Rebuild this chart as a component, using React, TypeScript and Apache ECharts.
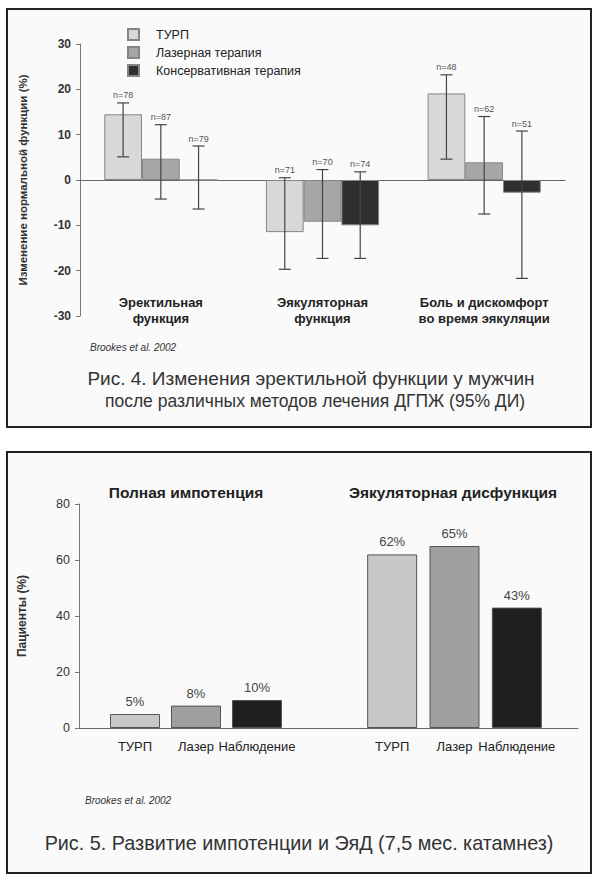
import React, { useEffect, useRef } from "react";
import * as echarts from "echarts";

// ---------- Chart 1 data ----------
const categories1 = ["Эректильная\nфункция", "Эякуляторная\nфункция", "Боль и дискомфорт\nво время эякуляции"];
const seriesNames1 = ["ТУРП", "Лазерная терапия", "Консервативная терапия"];
const turpMean = [14.5, -11.5, 19.1];
const laserMean = [4.7, -9.2, 3.9];
const consMean = [0, -10, -2.8];
const turpLow = [5.1, -19.7, 4.6];
const turpHigh = [17, 0.5, 23.2];
const laserLow = [-4.2, -17.3, -7.5];
const laserHigh = [12.2, 2.3, 14];
const consLow = [-6.4, -17.3, -21.7];
const consHigh = [7.5, 1.8, 10.8];
const turpN = ["n=78", "n=71", "n=48"];
const laserN = ["n=87", "n=70", "n=62"];
const consN = ["n=79", "n=74", "n=51"];
const yMin1 = -30;
const yMax1 = 30;
const yStep1 = 10;

// ---------- Chart 2 data ----------
const categories2 = ["ТУРП", "Лазер", "Наблюдение"];
const groupTitles2 = ["Полная импотенция", "Эякуляторная дисфункция"];
const impotenceValues = [5, 8, 10];
const ejacValues = [62, 65, 43];
const yMin2 = 0;
const yMax2 = 80;
const yStep2 = 20;

// ---------- texts ----------
const caption1 = ["Рис. 4. Изменения эректильной функции у мужчин", "после различных методов лечения ДГПЖ (95% ДИ)"];
const caption2 = "Рис. 5. Развитие импотенции и ЭяД (7,5 мес. катамнез)";
const source = "Brookes et al. 2002";
const yName1 = "Изменение нормальной функции (%)";
const yName2 = "Пациенты (%)";

const colors1 = ["#d8d8d8", "#a6a6a6", "#2f2f2f"];
const colors2 = ["#c8c8c8", "#9f9f9f", "#1f1f1f"];
const FONT = "Liberation Sans";

const means = [turpMean, laserMean, consMean];
const lows = [turpLow, laserLow, consLow];
const highs = [turpHigh, laserHigh, consHigh];
const ns = [turpN, laserN, consN];

function errorSeries(k: number) {
  return {
    type: "custom",
    name: "err" + k,
    xAxisIndex: 0,
    yAxisIndex: 0,
    z: 5,
    clip: false,
    data: categories1.map((_, i) => [i, lows[k][i], highs[k][i]]),
    renderItem: (params: any, api: any) => {
      const cat = api.value(0);
      const lo = api.value(1);
      const hi = api.value(2);
      const center = api.coord([cat, 0])[0];
      const catW = api.size([1, 0])[0];
      const barW = (catW * 0.7) / 3;
      const x = center + (k - 1) * barW;
      const yLo = api.coord([cat, lo])[1];
      const yHi = api.coord([cat, hi])[1];
      const cap = 6;
      const st = { stroke: "#444", lineWidth: 1.2 };
      return {
        type: "group",
        children: [
          { type: "line", shape: { x1: x, y1: yLo, x2: x, y2: yHi }, style: st },
          { type: "line", shape: { x1: x - cap, y1: yHi, x2: x + cap, y2: yHi }, style: st },
          { type: "line", shape: { x1: x - cap, y1: yLo, x2: x + cap, y2: yLo }, style: st },
          {
            type: "text",
            x: x,
            y: yHi - 3,
            style: {
              text: ns[k][params.dataIndex],
              fill: "#555",
              fontSize: 9,
              fontFamily: FONT,
              textAlign: "center",
              textVerticalAlign: "bottom",
            },
          },
        ],
      };
    },
  };
}

const option: any = {
  animation: false,
  backgroundColor: "#ffffff",
  textStyle: { fontFamily: FONT },
  legend: {
    data: seriesNames1,
    orient: "vertical",
    left: 122,
    top: 23,
    itemWidth: 11,
    itemHeight: 11,
    itemGap: 5,
    icon: "rect",
    textStyle: { fontSize: 12.5, color: "#222", fontFamily: FONT, padding: [0, 0, 0, 12], lineHeight: 12.5 },
  },
  grid: [
    { left: 80, top: 44, width: 485, height: 272 },
    { left: 79, top: 504, width: 499, height: 224 },
    { left: 104.5, top: 504, width: 183, height: 224 },
    { left: 361, top: 504, width: 187, height: 224 },
  ],
  xAxis: [
    {
      gridIndex: 0,
      type: "category",
      position: "top",
      data: categories1,
      axisLine: { show: true, onZero: true, lineStyle: { color: "#666", width: 1 } },
      axisTick: { show: false },
      axisLabel: { show: false },
    },
    {
      gridIndex: 0,
      type: "category",
      position: "bottom",
      data: categories1,
      axisLine: { show: false, onZero: false },
      axisTick: { show: false },
      axisLabel: {
        interval: 0,
        margin: -22,
        fontSize: 13,
        fontWeight: "bold",
        color: "#222",
        lineHeight: 16,
        fontFamily: FONT,
      },
    },
    {
      gridIndex: 1,
      type: "category",
      data: [""],
      axisLine: { show: true, lineStyle: { color: "#666", width: 1 } },
      axisTick: { show: false },
      axisLabel: { show: false },
    },
    {
      gridIndex: 2,
      type: "category",
      data: categories2,
      axisLine: { show: false },
      axisTick: { show: false },
      axisLabel: { interval: 0, margin: 12, fontSize: 13, color: "#222", fontFamily: FONT },
    },
    {
      gridIndex: 3,
      type: "category",
      data: categories2,
      axisLine: { show: false },
      axisTick: { show: false },
      axisLabel: { interval: 0, margin: 12, fontSize: 13, color: "#222", fontFamily: FONT },
    },
  ],
  yAxis: [
    {
      gridIndex: 0,
      type: "value",
      min: yMin1,
      max: yMax1,
      interval: yStep1,
      name: yName1,
      nameLocation: "middle",
      nameGap: 51,
      nameTextStyle: { fontSize: 11.5, fontWeight: "bold", color: "#333", fontFamily: FONT },
      axisLine: { show: true, lineStyle: { color: "#777" } },
      axisTick: { show: true, length: 4, lineStyle: { color: "#777" } },
      axisLabel: { fontSize: 12, fontWeight: "bold", color: "#333", margin: 9, fontFamily: FONT },
      splitLine: { show: false },
    },
    {
      gridIndex: 1,
      type: "value",
      min: yMin2,
      max: yMax2,
      interval: yStep2,
      name: yName2,
      nameLocation: "middle",
      nameGap: 51,
      nameTextStyle: { fontSize: 12, fontWeight: "bold", color: "#333", fontFamily: FONT },
      axisLine: { show: true, lineStyle: { color: "#777" } },
      axisTick: { show: true, length: 4, lineStyle: { color: "#777" } },
      axisLabel: { fontSize: 12.5, color: "#333", margin: 9, fontFamily: FONT },
      splitLine: { show: false },
    },
    { gridIndex: 2, type: "value", min: yMin2, max: yMax2, show: false, splitLine: { show: false } },
    { gridIndex: 3, type: "value", min: yMin2, max: yMax2, show: false, splitLine: { show: false } },
  ],
  series: [
    ...seriesNames1.map((name, k) => ({
      type: "bar",
      name,
      xAxisIndex: 0,
      yAxisIndex: 0,
      data: means[k],
      barGap: "0%",
      barCategoryGap: "30%",
      itemStyle: { color: colors1[k], borderColor: "#858585", borderWidth: 1 },
    })),
    errorSeries(0),
    errorSeries(1),
    errorSeries(2),
    {
      type: "bar",
      name: groupTitles2[0],
      xAxisIndex: 3,
      yAxisIndex: 2,
      barWidth: 50,
      data: impotenceValues.map((v, i) => ({
        value: v,
        itemStyle: { color: colors2[i], borderColor: "#555", borderWidth: 1 },
      })),
      label: { show: true, position: "top", distance: 6, formatter: "{c}%", fontSize: 13, color: "#444", fontFamily: FONT },
    },
    {
      type: "bar",
      name: groupTitles2[1],
      xAxisIndex: 4,
      yAxisIndex: 3,
      barWidth: 50,
      data: ejacValues.map((v, i) => ({
        value: v,
        itemStyle: { color: colors2[i], borderColor: "#555", borderWidth: 1 },
      })),
      label: { show: true, position: "top", distance: 6, formatter: "{c}%", fontSize: 13, color: "#444", fontFamily: FONT },
    },
  ],
  graphic: [
    { type: "rect", z: -10, shape: { x: 7, y: 9, width: 584, height: 418 }, style: { fill: "#fafafa", stroke: "#222", lineWidth: 2 } },
    { type: "rect", z: -10, shape: { x: 7, y: 452, width: 584, height: 421 }, style: { fill: "#fafafa", stroke: "#222", lineWidth: 2 } },
    {
      type: "text",
      x: 90,
      y: 347,
      style: { text: source, fontSize: 10, fontStyle: "italic", fill: "#333", fontFamily: FONT, textVerticalAlign: "middle" },
    },
    {
      type: "text",
      x: 311,
      y: 378,
      style: { text: caption1[0], fontSize: 19, fill: "#333", fontFamily: FONT, textAlign: "center", textVerticalAlign: "middle" },
    },
    {
      type: "text",
      x: 315,
      y: 401,
      style: { text: caption1[1], fontSize: 17.5, fill: "#333", fontFamily: FONT, textAlign: "center", textVerticalAlign: "middle" },
    },
    {
      type: "text",
      x: 186,
      y: 492,
      style: { text: groupTitles2[0], fontSize: 15.5, fontWeight: "bold", fill: "#222", fontFamily: FONT, textAlign: "center", textVerticalAlign: "middle" },
    },
    {
      type: "text",
      x: 453,
      y: 492,
      style: { text: groupTitles2[1], fontSize: 15.5, fontWeight: "bold", fill: "#222", fontFamily: FONT, textAlign: "center", textVerticalAlign: "middle" },
    },
    {
      type: "text",
      x: 85,
      y: 800,
      style: { text: source, fontSize: 10, fontStyle: "italic", fill: "#333", fontFamily: FONT, textVerticalAlign: "middle" },
    },
    {
      type: "text",
      x: 299,
      y: 843,
      style: { text: caption2, fontSize: 19.8, fill: "#333", fontFamily: FONT, textAlign: "center", textVerticalAlign: "middle" },
    },
  ],
};

export default function App() {
  const ref = useRef<HTMLDivElement>(null);
  useEffect(() => {
    if (!ref.current) return;
    const chart = echarts.init(ref.current, null, { renderer: "svg" });
    chart.setOption(option);
    return () => chart.dispose();
  }, []);
  return <div ref={ref} style={{ position: "fixed", left: 0, top: 0, width: 600, height: 880 }} />;
}
